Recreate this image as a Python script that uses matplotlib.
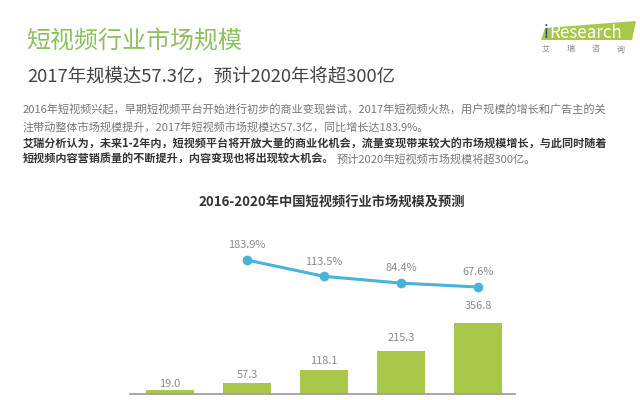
import numpy as np
import matplotlib
matplotlib.use("Agg")
import matplotlib.pyplot as plt
from matplotlib.patches import Polygon

plt.rcParams['font.family'] = ['Noto Sans CJK SC', 'DejaVu Sans']

## Data
years = ['2016', '2017', '2018', '2019', '2020']
market = [19.0, 57.3, 118.1, 215.3, 356.8]          # 亿元
growth_years = ['2017', '2018', '2019', '2020']
growth = [183.9, 113.5, 84.4, 67.6]                 # %

title = "短视频行业市场规模"
subtitle = "2017年规模达57.3亿，预计2020年将超300亿"
para1 = ["2016年短视频兴起，早期短视频平台开始进行初步的商业变现尝试，2017年短视频火热，用户规模的增长和广告主的关",
         "注带动整体市场规模提升，2017年短视频市场规模达57.3亿，同比增长达183.9%。"]
para2_bold = ["艾瑞分析认为，未来1-2年内，短视频平台将开放大量的商业化机会，流量变现带来较大的市场规模增长，与此同时随着",
              "短视频内容营销质量的不断提升，内容变现也将出现较大机会。"]
para2_tail = "预计2020年短视频市场规模将超300亿。"
chart_title = "2016-2020年中国短视频行业市场规模及预测"
logo_cn = ["艾", "瑞", "咨", "询"]

bar_color = '#a9c84a'
line_color = '#4ab3d9'
green = '#8dc05e'
grey_txt = '#8a8a8a'

W, H = 640, 400
fig = plt.figure(figsize=(6.4, 4.0), dpi=100)

def px(x, y):
    return x / W, 1 - y / H

def fs(p):  # pixel size -> points
    return p * 72 / 100

## Header texts
fig.text(*px(26, 42), title, color=green, fontsize=fs(24), va='center', ha='left')
fig.text(*px(27, 77), subtitle, color='#444444', fontsize=fs(18.4), va='center', ha='left')

para_y = [110, 127, 144, 159]
for line, yy in zip(para1, para_y[:2]):
    fig.text(*px(23, yy), line, color='#777777', fontsize=fs(11.1), va='center', ha='left')
for line, yy in zip(para2_bold, para_y[2:]):
    t = fig.text(*px(23, yy), line, color='#333333', fontsize=fs(11.1), va='center',
                 ha='left', fontweight='bold')
# grey tail after the bold part of the last line
fig.canvas.draw()
bb = t.get_window_extent()
fig.text(bb.x1 / W + 0.004, px(0, para_y[3])[1], para2_tail, color='#777777',
         fontsize=fs(11.1), va='center', ha='left')

## Logo
logo = Polygon([px(545, 28), px(636, 21), px(632, 40), px(541, 40)], closed=True,
               transform=fig.transFigure, facecolor='#a9c84a', edgecolor='none')
fig.patches.append(logo)
fig.text(*px(544, 38), "i", color='#2b4a8a', fontsize=fs(17), va='baseline', ha='left')
fig.text(*px(549, 38), "Research", color='white', fontsize=fs(17), va='baseline', ha='left')
for i, ch in enumerate(logo_cn):
    fig.text(*px(546 + i * 25, 49), ch, color='#888888', fontsize=fs(8), va='center', ha='center')

## Chart title
fig.text(*px(332, 203), chart_title, color='#333333', fontsize=fs(13.3), va='center',
         ha='center', fontweight='bold')

## Chart
ax = fig.add_axes([130 / W, 6 / H, 385 / W, 180 / H])
x = np.arange(len(years))
ax.bar(x, market, width=0.62, color=bar_color)
for xi, v in zip(x, market):
    ax.text(xi, v * 1.155 + 29, f"{v:.1f}", ha='center', va='center', color=grey_txt,
            fontsize=fs(11))
ax.set_xlim(-0.52, 4.48)
ax.set_ylim(0, 900)
for s in ['top', 'right', 'left']:
    ax.spines[s].set_visible(False)
ax.spines['bottom'].set_color('#999999')
ax.spines['bottom'].set_linewidth(1.2)
ax.set_xticks([])
ax.set_yticks([])
ax.patch.set_alpha(0)

ax2 = ax.twinx()
gx = x[1:]
ax2.plot(gx, growth, color=line_color, linewidth=2.2, marker='o', markersize=6)
for xi, v in zip(gx, growth):
    ax2.text(xi, v + 64, f"{v:.1f}%", ha='center', va='center', color=grey_txt,
             fontsize=fs(11))
ax2.set_ylim(-393.5, 382.3)
ax2.set_yticks([])
for s in ax2.spines.values():
    s.set_visible(False)

fig.savefig("out.png", dpi=100)
